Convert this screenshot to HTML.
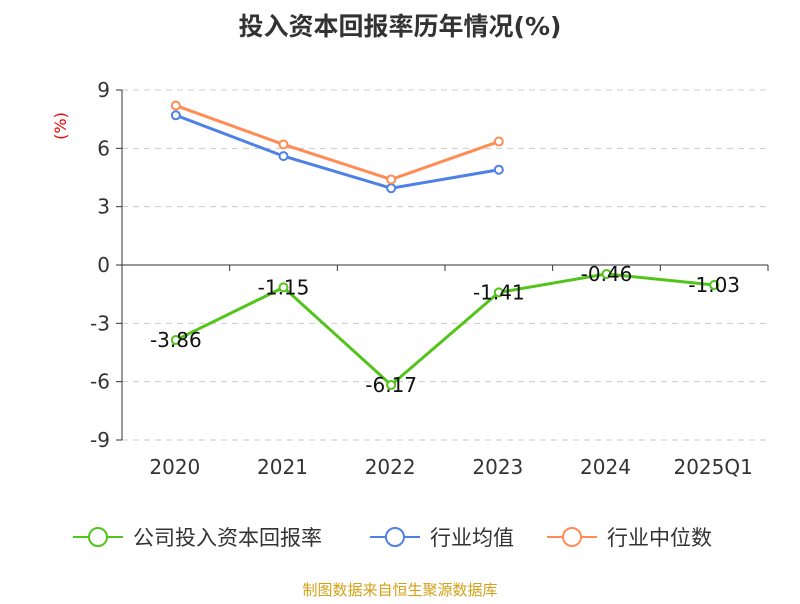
<!DOCTYPE html>
<html><head><meta charset="utf-8"><style>
body{margin:0;background:#fff;font-family:"DejaVu Sans","Noto Sans CJK SC",sans-serif}
</style></head><body>
<svg width="800" height="600" xmlns="http://www.w3.org/2000/svg" style="font-family:'DejaVu Sans','Noto Sans CJK SC',sans-serif">
<text x="400" y="35" text-anchor="middle" font-size="25" font-weight="bold" fill="#333">投入资本回报率历年情况(%)</text>
<text x="66" y="126" font-size="16" fill="#e00" transform="rotate(-90 66 126)" text-anchor="middle">(%)</text>
<g id="grid"></g><g id="axes"></g><g id="series"></g>
<g>
<g><line x1="73" y1="537" x2="123" y2="537" stroke="#52c41a" stroke-width="2"/><circle cx="98" cy="537" r="9" fill="#fff" stroke="#52c41a" stroke-width="2"/><text x="133" y="545" font-size="21" fill="#333">公司投入资本回报率</text></g>
<g><line x1="370" y1="537" x2="420" y2="537" stroke="#4e80e6" stroke-width="2"/><circle cx="395" cy="537" r="9" fill="#fff" stroke="#4e80e6" stroke-width="2"/><text x="430" y="545" font-size="21" fill="#333">行业均值</text></g>
<g><line x1="547" y1="537" x2="597" y2="537" stroke="#ff8c55" stroke-width="2"/><circle cx="572" cy="537" r="9" fill="#fff" stroke="#ff8c55" stroke-width="2"/><text x="607" y="545" font-size="21" fill="#333">行业中位数</text></g>
</g>
<text x="400" y="595" text-anchor="middle" font-size="15" fill="#d4a017">制图数据来自恒生聚源数据库</text>
</svg>
<script>
const categories=["2020","2021","2022","2023","2024","2025Q1"];
const company=[-3.86,-1.15,-6.17,-1.41,-0.46,-1.03];
const industryAvg=[7.7,5.6,3.95,4.9];
const industryMedian=[8.2,6.2,4.4,6.35];
const yTicks=[9,6,3,0,-3,-6,-9];
const NS="http://www.w3.org/2000/svg";
const x0=122,x1=768,bw=(x1-x0)/categories.length;
const X=i=>x0+bw*(i+0.5);
const Y=v=>265-v*(350/18);
function mk(tag,attrs,parent,txt){const e=document.createElementNS(NS,tag);for(const k in attrs)e.setAttribute(k,attrs[k]);if(txt!==undefined)e.textContent=txt;parent.appendChild(e);return e;}
const g=document.getElementById('grid'),a=document.getElementById('axes'),s=document.getElementById('series');
yTicks.forEach(t=>{
 if(t!==0){const l=mk('line',{x1:x0,x2:x1,y1:Y(t),y2:Y(t),stroke:'#ccc','stroke-dasharray':'6,5'},g);
 }
 const tk=mk('line',{x1:x0-6,x2:x0,y1:Y(t),y2:Y(t),stroke:'#333'},a);
 
 const tl=mk('text',{x:x0-12,y:Y(t)+7,'text-anchor':'end','font-size':20,fill:'#333'},a,String(t));
 
});
const ya=mk('line',{x1:x0,x2:x0,y1:Y(9),y2:Y(-9),stroke:'#333'},a);

const xa=mk('line',{x1:x0,x2:x1,y1:Y(0),y2:Y(0),stroke:'#333'},a);

for(let i=0;i<=categories.length;i++){const t=mk('line',{x1:x0+bw*i,x2:x0+bw*i,y1:Y(0),y2:Y(0)+6,stroke:'#333'},a);
 }
categories.forEach((c,i)=>{const t=mk('text',{x:X(i)-1,y:474,'text-anchor':'middle','font-size':20,fill:'#333'},a,c);
 });
function line(data,color,name,labels){
 const p=mk('polyline',{points:data.map((v,i)=>X(i)+','+Y(v)).join(' '),fill:'none',stroke:color,'stroke-width':3},s);
 
 data.forEach((v,i)=>{const c=mk('circle',{cx:X(i),cy:Y(v),r:4,fill:'#fff',stroke:color,'stroke-width':2},s);
  
  if(labels){const t=mk('text',{x:X(i),y:Y(v)+7,'text-anchor':'middle','font-size':20,fill:'#111'},s,v.toFixed(2));
   }});
}
line(industryAvg,'#4e80e6','industry-avg',false);
line(industryMedian,'#ff8c55','industry-median',false);
line(company,'#52c41a','company',true);
</script>
</body></html>
